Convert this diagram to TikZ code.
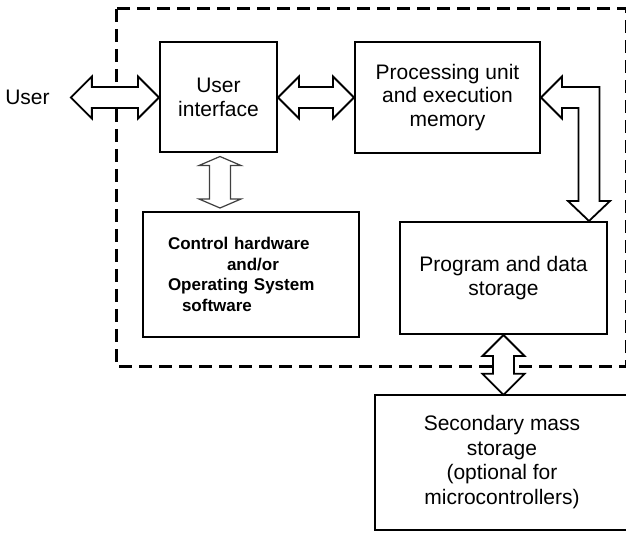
\documentclass[tikz,border=0pt]{standalone}
\usepackage{fontspec}
\setmainfont{Liberation Sans}
\usepackage{tikz}
\usetikzlibrary{positioning,calc}
\tikzset{
        x=1pt, y=-1pt, % one unit is one pixel of the page, y runs down
        every node/.style={font=\fontsize{21}{23.5}\selectfont}, % text in the boxes
    }
\tikzstyle{unit}=[draw,line width=2pt,align=center,inner sep=0pt]
\tikzstyle{frame}=[line width=3pt,dash pattern=on 13pt off 7pt]
\tikzstyle{bus}=[draw,fill=white,line width=1.8pt]
\tikzstyle{link}=[draw=black!75,fill=white,line width=1.2pt]

% double block arrow, left tip #1, right tip #2
\newcommand{\hbus}[2]{%
    \draw[bus] (#1) -- ([shift={(21,-21)}]#1) -- ([shift={(21,-10.5)}]#1)
        -- ([shift={(-21,-10.5)}]#2) -- ([shift={(-21,-21)}]#2) -- (#2)
        -- ([shift={(-21,21)}]#2) -- ([shift={(-21,10.5)}]#2)
        -- ([shift={(21,10.5)}]#1) -- ([shift={(21,21)}]#1) -- cycle;}
% double block arrow, top tip #2, bottom tip #3, head length #4
\newcommand{\vbus}[4][bus]{%
    \draw[#1] (#2) -- ([shift={(21,#4)}]#2) -- ([shift={(10.5,#4)}]#2)
        -- ([shift={(10.5,-#4)}]#3) -- ([shift={(21,-#4)}]#3) -- (#3)
        -- ([shift={(-21,-#4)}]#3) -- ([shift={(-10.5,-#4)}]#3)
        -- ([shift={(-10.5,#4)}]#2) -- ([shift={(-21,#4)}]#2) -- cycle;}

\begin{document}
\begin{tikzpicture}
    \useasboundingbox (0,0) rectangle (626,534);

    % system border
    \draw[frame] (116,9) rectangle (626,366);

    \node[inner sep=0pt] (user) at (27.5,97.5) {User};
    \coordinate[right=21pt of user] (usertip);

    \node[unit, minimum width=117pt, minimum height=110pt] (ui) at (218.5,97.5)
        {User\\interface};
    \node[unit, minimum width=185pt, minimum height=111pt] (proc) at (447.5,97.5)
        {Processing unit\\and execution\\memory};
    \node[unit, minimum width=207pt, minimum height=112pt] (store) at (503.5,278)
        {Program and data\\storage};
    % box runs off the right edge of the page
    \node[inner sep=0pt, minimum width=280pt, minimum height=135pt,
          font=\fontsize{21}{24.5}\selectfont] (sec) at (515,462.5)
        {\begin{tabular}{@{}c@{}}Secondary mass\\storage\\(optional for\\microcontrollers)\end{tabular}\hspace*{26pt}};
    \draw[line width=2pt] (sec.north east) -- (sec.north west) -- (sec.south west) -- (sec.south east);
    \node[unit, minimum width=216pt, minimum height=125pt, inner xsep=25pt,
          text width=166pt, align=left,
          font=\bfseries\fontsize{17}{20.7}\selectfont] (ctrl) at (251,274.5)
        {Control hardware\\\hspace*{59pt}and/or\\Operating System\\\hspace*{14pt}software};

    \coordinate (ctrltop) at ([shift={(1.5,3)}]ui.south);
    \coordinate (ctrlbot) at ([yshift=3pt]ctrltop |- ctrl.north);
    \coordinate (storetip) at ([xshift=-19pt]store.north east);

    \hbus{usertip}{ui.west}
    \hbus{ui.east}{proc.west}
    \vbus[link]{ctrltop}{ctrlbot}{9}
    \vbus{store.south}{store.south |- sec.north}{21}
    \draw[bus] (proc.east) -- ++(21,-21) -- ++(0,10.5)
        -- ([shift={(10.5,-10.5)}]storetip |- proc.east)
        -- ([shift={(10.5,-20)}]storetip) -- ([shift={(21,-20)}]storetip)
        -- (storetip) -- ([shift={(-21,-20)}]storetip)
        -- ([shift={(-10.5,-20)}]storetip)
        -- ([shift={(-10.5,10.5)}]storetip |- proc.east)
        -- ([shift={(21,10.5)}]proc.east) -- ++(0,10.5) -- cycle;
\end{tikzpicture}
\end{document}
